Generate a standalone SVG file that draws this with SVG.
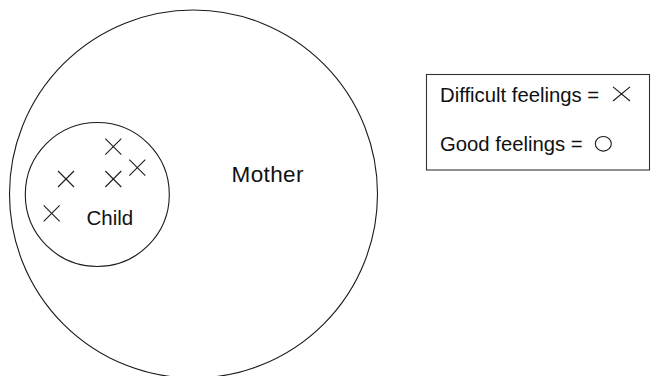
<svg xmlns="http://www.w3.org/2000/svg" width="656" height="376" viewBox="0 0 656 376">
  <style>
    .ring { fill: none; stroke: #1a1a1a; stroke-width: 1.1; }
    .mark { stroke: #1a1a1a; stroke-width: 1.1; fill: none; }
    .label { font-family: "Liberation Sans", Arial, Helvetica, sans-serif; fill: #111; }
    .legend { font-size: 20.3px; }
  </style>
  <defs>
    <g id="cross">
      <line x1="-8" y1="-8" x2="8" y2="8"/>
      <line x1="-8" y1="8" x2="8" y2="-8"/>
    </g>
  </defs>
  <rect width="656" height="376" fill="#ffffff"/>

  <g id="mother">
    <circle class="ring" cx="193.5" cy="194" r="184"/>
    <text class="label" x="231.5" y="182.3" font-size="22.5" letter-spacing="0.4">Mother</text>
  </g>

  <g id="child">
    <circle class="ring" cx="97.3" cy="194.5" r="72"/>
    <text class="label" x="86.5" y="225" font-size="20.5">Child</text>
    <g class="mark">
      <use href="#cross" x="113.3" y="146.7"/>
      <use href="#cross" x="137.3" y="167.7"/>
      <use href="#cross" x="66" y="179"/>
      <use href="#cross" x="113.3" y="179"/>
      <use href="#cross" x="51.7" y="213.3"/>
    </g>
  </g>

  <g id="legend">
    <rect x="426.5" y="74.5" width="223" height="95.5" fill="none" stroke="#333" stroke-width="1.1"/>
    <text class="label legend" x="440" y="101.7">Difficult feelings =</text>
    <g class="mark">
      <line x1="613" y1="86.8" x2="630" y2="101"/>
      <line x1="613" y1="101" x2="630" y2="86.8"/>
    </g>
    <text class="label legend" x="440" y="151.2">Good feelings =</text>
    <ellipse class="mark" cx="603.3" cy="143.8" rx="8" ry="7.3"/>
  </g>
</svg>
